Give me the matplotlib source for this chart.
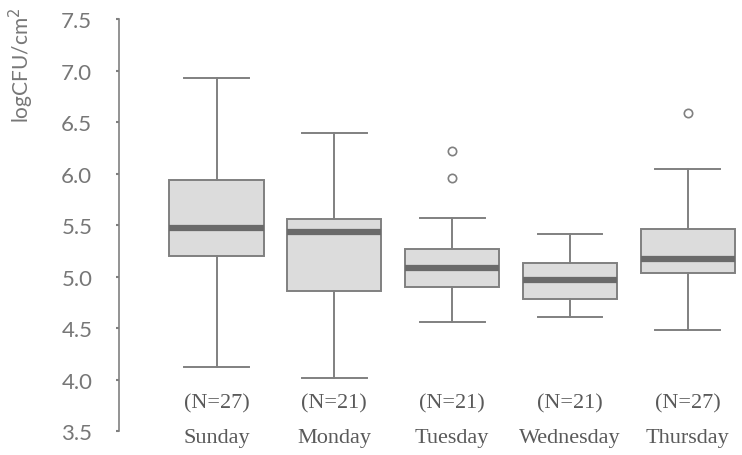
import matplotlib.pyplot as plt

days = ["Sunday", "Monday", "Tuesday", "Wednesday", "Thursday"]
counts = [27, 21, 21, 21, 27]

whisker_low = [4.12, 4.01, 4.56, 4.61, 4.48]
q1 = [5.20, 4.86, 4.90, 4.78, 5.03]
median = [5.47, 5.43, 5.08, 4.97, 5.17]
q3 = [5.94, 5.56, 5.27, 5.13, 5.46]
whisker_high = [6.93, 6.39, 5.57, 5.41, 6.04]
outliers = [[], [], [6.22, 5.96], [], [6.59]]

yticks = [3.5, 4.0, 4.5, 5.0, 5.5, 6.0, 6.5, 7.0, 7.5]

stats = []
for i in range(len(days)):
    stats.append(dict(label=days[i], whislo=whisker_low[i], q1=q1[i], med=median[i],
                      q3=q3[i], whishi=whisker_high[i], fliers=outliers[i]))

fig = plt.figure(figsize=(7.42, 4.56), dpi=100)
ax = fig.add_axes([0.160, 0.0526, 0.840, 0.9035])

grey = "#808080"
ax.bxp(stats, positions=range(1, 6), widths=0.8, patch_artist=True, showcaps=True,
       boxprops=dict(facecolor="#dcdcdc", edgecolor=grey, linewidth=1.4),
       medianprops=dict(color="#6a6a6a", linewidth=4.5),
       whiskerprops=dict(color=grey, linewidth=1.4),
       capprops=dict(color=grey, linewidth=1.4),
       capwidths=0.55,
       flierprops=dict(marker="o", markersize=6, markerfacecolor="none",
                       markeredgecolor=grey, markeredgewidth=1.2))

ax.set_xlim(0.17, 5.46)
ax.set_ylim(3.5, 7.5)
ax.set_yticks(yticks)
ax.set_yticklabels([f"{t:.1f}" for t in yticks], fontsize=16, color="#777777", family="Lato")
ax.tick_params(axis="y", length=2, width=1.5, color=grey, pad=17)
ax.set_xticks([])
for s in ["top", "right", "bottom"]:
    ax.spines[s].set_visible(False)
ax.spines["left"].set_color(grey)
ax.spines["left"].set_linewidth(1.2)

ax.set_ylabel("logCFU/cm$^2$", fontsize=15, color="#777777", family="Lato")
ax.yaxis.set_label_coords(-0.132, 0.89)

for i, d in enumerate(days):
    ax.text(i + 1, 3.77, f"(N={counts[i]})", ha="center", va="center",
            fontsize=16, color="#5a5a5a", family="Liberation Serif")
    ax.text(i + 1, 3.44, d, ha="center", va="center", fontsize=16,
            color="#5a5a5a", family="Liberation Serif", clip_on=False)

fig.savefig("out.png", dpi=100)
